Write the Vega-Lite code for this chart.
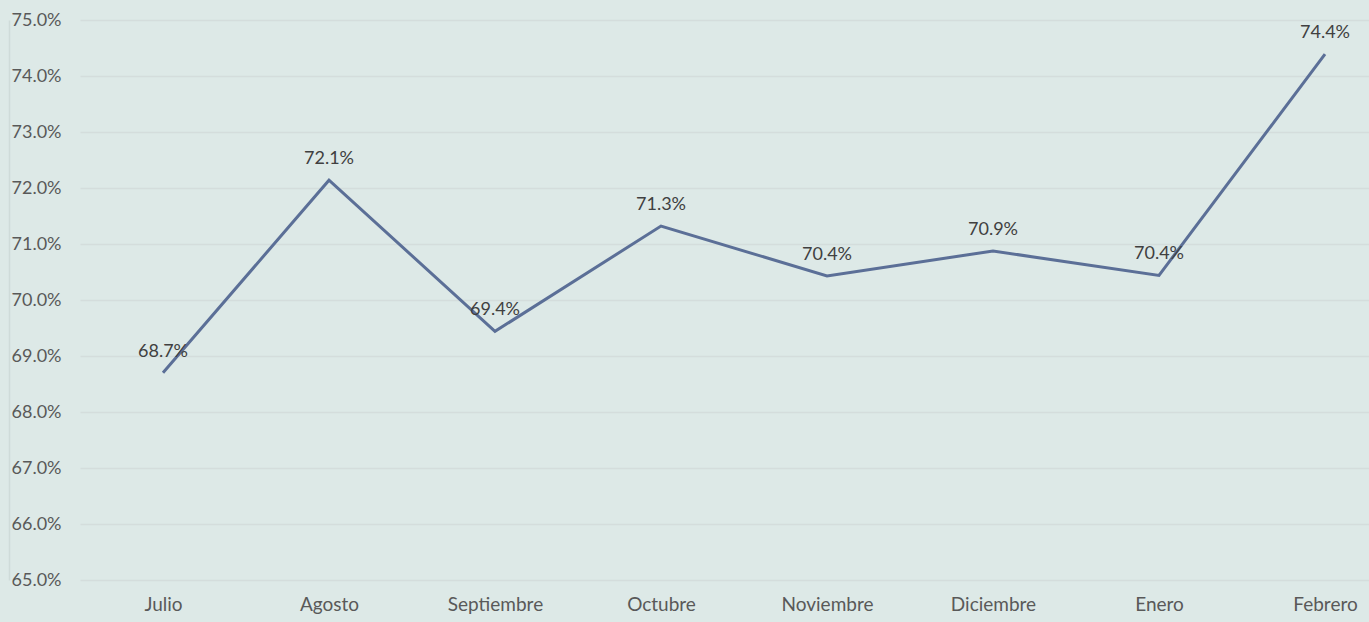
{
  "$schema": "https://vega.github.io/schema/vega-lite/v6.json",
  "width": 1328,
  "height": 560,
  "autosize": {"type": "none"},
  "padding": {"left": 80, "top": 20, "right": 0, "bottom": 42},
  "background": "#dde9e7",
  "config": {
    "view": {"stroke": null},
    "font": "Lato",
    "axis": {"labelFont": "Lato", "labelFontSize": 18, "labelColor": "#595959"}
  },
  "data": {
    "values": [
      {"mes": "Julio", "valor": 0.6870},
      {"mes": "Agosto", "valor": 0.7214},
      {"mes": "Septiembre", "valor": 0.6944},
      {"mes": "Octubre", "valor": 0.7132},
      {"mes": "Noviembre", "valor": 0.7043},
      {"mes": "Diciembre", "valor": 0.70875},
      {"mes": "Enero", "valor": 0.7044},
      {"mes": "Febrero", "valor": 0.7439}
    ]
  },
  "encoding": {
    "x": {
      "field": "mes", "type": "nominal", "sort": null,
      "scale": {"type": "point", "padding": 0.5},
      "axis": {"title": null, "domain": false, "ticks": false, "grid": false, "labelAngle": 0, "labelPadding": 15, "labelFontSize": 19}
    },
    "y": {
      "field": "valor", "type": "quantitative",
      "scale": {"domain": [0.65, 0.75], "nice": false, "zero": false},
      "axis": {
        "title": null, "format": ".1%", "values": [0.65, 0.66, 0.67, 0.68, 0.69, 0.70, 0.71, 0.72, 0.73, 0.74, 0.75],
        "ticks": false, "domain": true, "domainColor": "#cfdbd9", "domainWidth": 1.5, "offset": 71,
        "labelPadding": -52, "labelAlign": "right",
        "gridColor": "#d4dddc", "gridWidth": 1.5
      }
    }
  },
  "layer": [
    {"mark": {"type": "line", "color": "#5b6f97", "strokeWidth": 3}},
    {
      "mark": {"type": "text", "dy": -21, "fontSize": 18, "color": "#404040", "font": "Lato"},
      "encoding": {"text": {"field": "valor", "type": "quantitative", "format": ".1%"}}
    }
  ]
}
